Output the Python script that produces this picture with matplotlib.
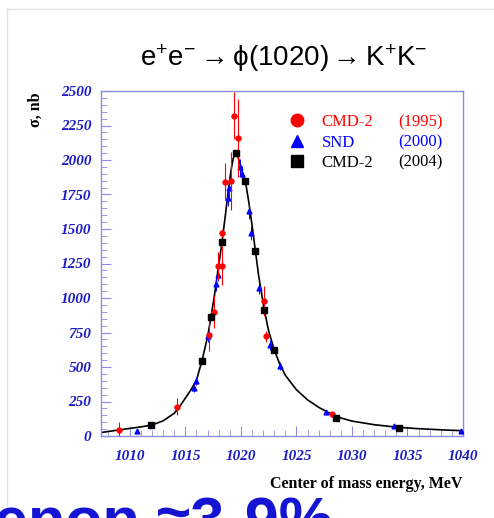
import numpy as np
import matplotlib.pyplot as plt
from matplotlib.lines import Line2D

plt.rcParams['mathtext.fontset'] = 'custom'
plt.rcParams['mathtext.rm'] = 'Liberation Sans'
plt.rcParams['mathtext.it'] = 'Liberation Sans'

# CMD-2 (1995)
e_cmd95 = [1009.0, 1014.2, 1017.1, 1017.6, 1017.97, 1018.27, 1018.3, 1018.6, 1019.07, 1019.38, 1019.77, 1022.08, 1022.3, 1028.2]
s_cmd95 = [44, 213, 734, 896, 1230, 1235, 1473, 1843, 1848, 2320, 2160, 976, 722, 157]
err_cmd95 = [60, 60, 115, 115, 100, 140, 30, 135, 210, 170, 280, 110, 40, 20]

# SND (2000)
e_snd = [1010.6, 1015.8, 1016.0, 1017.07, 1017.8, 1017.97, 1018.8, 1018.96, 1019.9, 1020.07, 1020.7, 1020.9, 1021.66, 1022.6, 1023.5, 1027.7, 1033.8, 1039.8]
s_snd = [35, 350, 400, 722, 1098, 1170, 1728, 1795, 1946, 1897, 1630, 1473, 1073, 661, 509, 174, 70, 38]
err_snd = [15, 30, 30, 40, 50, 50, 60, 60, 60, 60, 55, 50, 45, 35, 30, 12, 8, 6]

# CMD-2 (2004)
e_cmd04 = [1011.9, 1016.5, 1017.3, 1018.3, 1019.56, 1020.4, 1021.27, 1022.1, 1023.0, 1028.6, 1034.2]
s_cmd04 = [78, 547, 860, 1405, 2050, 1848, 1344, 916, 625, 133, 60]

# fit curve
e_fit = [1007.4, 1008.0, 1009.0, 1010.0, 1011.0, 1012.0, 1013.0, 1014.0, 1014.5, 1015.0, 1015.5,
         1016.0, 1016.5, 1017.0, 1017.3, 1017.6, 1018.0, 1018.3, 1018.6, 1018.9, 1019.1, 1019.3,
         1019.5, 1019.7, 1019.9, 1020.1, 1020.4, 1020.7, 1021.0, 1021.3, 1021.6, 1022.1, 1022.5,
         1023.0, 1023.5, 1024.0, 1025.0, 1026.0, 1027.0, 1028.0, 1028.6, 1030.0, 1032.0, 1034.0,
         1036.0, 1038.0, 1040.0]
s_fit = [25, 32, 44, 55, 66, 80, 110, 165, 215, 275, 335,
         405, 547, 720, 860, 1010, 1240, 1405, 1600, 1800, 1920, 2010,
         2050, 2030, 1980, 1920, 1848, 1700, 1530, 1344, 1160, 916, 760,
         625, 520, 440, 335, 262, 208, 165, 140, 108, 82, 64,
         53, 45, 38]

tick_color = '#1c1cc4'
spine_color = '#8c8ce4'

fig = plt.figure(figsize=(4.94, 5.18), dpi=100)
ax = fig.add_axes([101/494, 82/518, 362/494, 345/518])

ax.plot(e_fit, s_fit, color='black', lw=1.2, zorder=2)
ax.errorbar(e_snd, s_snd, yerr=err_snd, fmt='^', color='blue', ms=3.5, elinewidth=0.7,
            capsize=0, zorder=3)
ax.errorbar(e_cmd95, s_cmd95, yerr=err_cmd95, xerr=0.25, fmt='o', color='red', ms=3.5,
            elinewidth=0.8, capsize=0, zorder=4)
ax.plot(e_cmd04, s_cmd04, 's', color='black', ms=5, zorder=5)

ax.set_xlim(1007.4, 1040)
ax.set_ylim(0, 2500)
ax.set_xticks(np.arange(1010, 1041, 5))
ax.set_xticks(np.arange(1008, 1041, 1), minor=True)
ax.set_yticks(np.arange(0, 2501, 250))
ax.set_yticks(np.arange(0, 2501, 50), minor=True)
ax.tick_params(which='both', direction='in', top=False, right=False, color=spine_color)
ax.tick_params(which='major', length=7, width=0.8)
ax.tick_params(which='minor', length=4, width=0.6)
ax.tick_params(axis='x', pad=10)
ax.tick_params(axis='y', pad=7)
for lab in ax.get_xticklabels() + ax.get_yticklabels():
    lab.set_family('Liberation Serif')
    lab.set_weight('bold')
    lab.set_style('italic')
    lab.set_color(tick_color)
    lab.set_fontsize(11)
for sp in ax.spines.values():
    sp.set_color(spine_color)
    sp.set_linewidth(1.0)

handles = [Line2D([], [], ls='', marker='o', color='red', ms=9),
           Line2D([], [], ls='', marker='^', color='blue', ms=9),
           Line2D([], [], ls='', marker='s', color='black', ms=8)]
leg = ax.legend(handles, ['CMD-2', 'SND', 'CMD-2'], loc='upper left', bbox_to_anchor=(0.471, 0.976),
                frameon=False, handlelength=1.2, handletextpad=0.9, labelspacing=0.26,
                prop={'family': 'Liberation Serif', 'size': 12})
for txt, c in zip(leg.get_texts(), ['red', 'blue', 'black']):
    txt.set_color(c)
years = ['(1995)', '(2000)', '(2004)']
for i, (yr, c) in enumerate(zip(years, ['red', 'blue', 'black'])):
    ax.text(0.82, 0.908 - 0.058 * i, yr, transform=ax.transAxes, color=c,
            family='Liberation Serif', fontsize=12, va='center')

fig.text(0.575, 0.888, r'$\mathrm{e^{+}e^{-}}\rightarrow\phi\mathrm{(1020)}\rightarrow\mathrm{K^{+}K^{-}}$',
         ha='center', va='center', fontsize=20)
fig.text(0.073, 0.788, 'σ, nb', rotation=90, ha='center', va='center',
         family='Liberation Serif', weight='bold', fontsize=11.5)
fig.text(0.935, 0.0656, 'Center of mass energy, MeV', ha='right', va='center',
         family='Liberation Serif', weight='bold', fontsize=11.5)

# slide text cut off at the bottom
fig.text(-0.012, -0.043, 'enon ≈3-9%', ha='left', va='baseline', color='#1414d2',
         family='Liberation Sans', weight='bold', fontsize=44)

# slide frame
fig.add_artist(Line2D([7/494, 1], [1 - 9/518, 1 - 9/518], transform=fig.transFigure,
                      color='#e2e2e2', lw=1))
fig.add_artist(Line2D([7/494, 7/494], [0, 1 - 9/518], transform=fig.transFigure,
                      color='#e2e2e2', lw=1))

fig.savefig('out.png', dpi=100)
